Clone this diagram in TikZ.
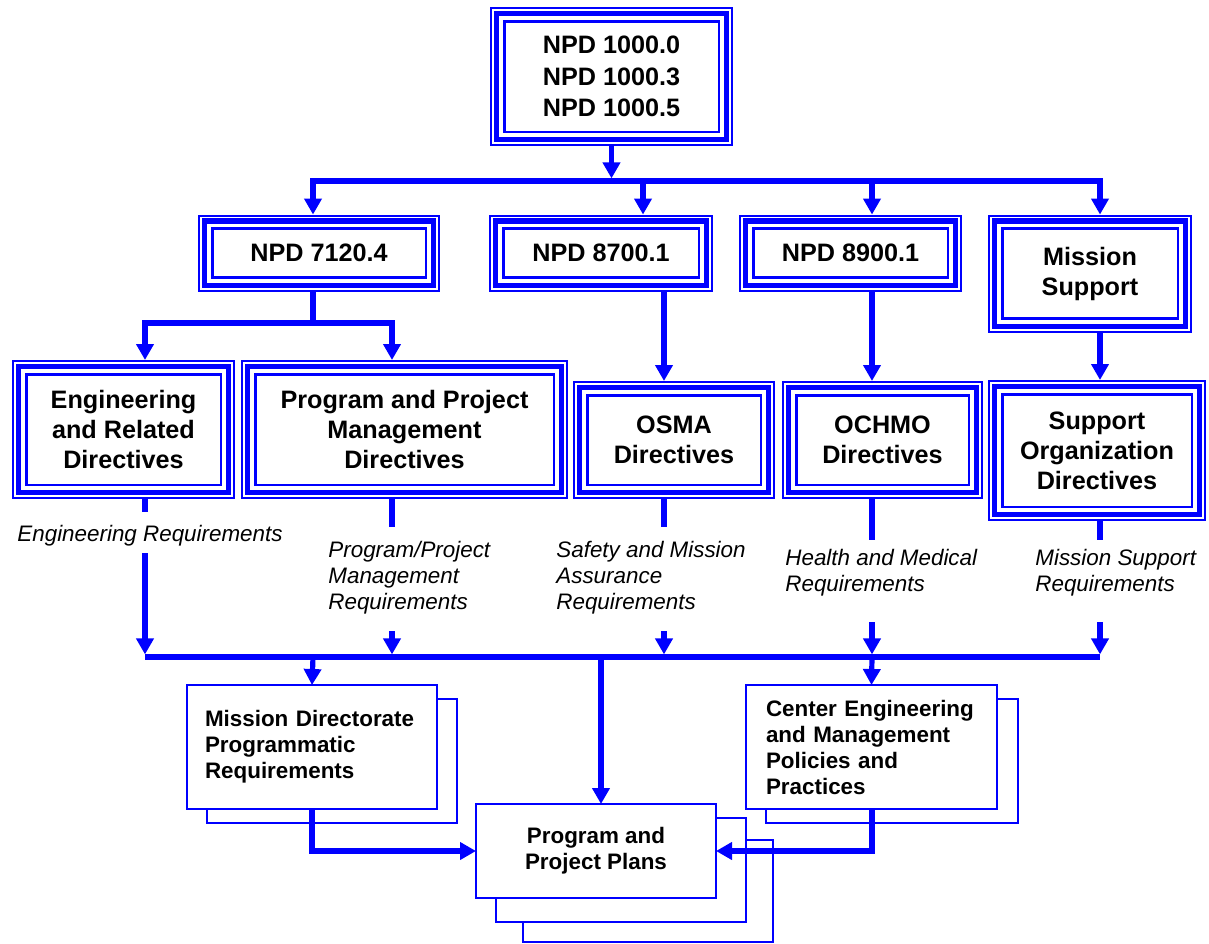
\documentclass[tikz,border=0pt]{standalone}
\usepackage{fontspec}
\setmainfont{Liberation Sans}
\usetikzlibrary{arrows.meta}

\definecolor{nblue}{RGB}{0,0,255}

\tikzset{
	conn/.style = {draw = nblue, line width = 2.6pt},
	arr/.style = {conn, -{Triangle[length = 8pt, width = 8.5pt]}},
	arrs/.style = {conn, {Triangle[length = 8pt, width = 8.5pt]}-{Triangle[length = 8pt, width = 8.5pt]}},
	into/.style = {shorten > = 7.1pt},
	outof/.style = {shorten < = 7.1pt},
	tobus/.style = {shorten > = 1.3pt},
	tri/.style = {draw = nblue, fill = white, line width = 1.3pt, inner sep = 0pt, outer sep = 0pt,
		align = center, font = \bfseries\fontsize{12.6}{15}\selectfont},
	thickframe/.style = {draw = nblue, line width = 2.6pt},
	thinframe/.style = {draw = nblue, line width = 1pt},
	req/.style = {anchor = west, align = left, inner sep = 0pt, font = \itshape\fontsize{11.2}{13}\selectfont},
	doc/.style = {draw = nblue, fill = white, line width = 0.9pt, outer sep = 0pt, inner ysep = 0pt,
		font = \bfseries\fontsize{11.2}{13}\selectfont},
	page/.style = {draw = nblue, fill = white, line width = 0.9pt}
}

\begin{document}
\begin{tikzpicture}[x = 0.5pt, y = -0.5pt]

\useasboundingbox (0, 0) rectangle (1209, 943);

% columns and bus lines
\coordinate (colA) at (145, 0);
\coordinate (colB) at (392, 0);
\coordinate (colC) at (643, 0);
\coordinate (colD) at (664, 0);
\coordinate (colE) at (872, 0);
\coordinate (colF) at (1100, 0);
\coordinate (colG) at (313, 0);
\coordinate (colH) at (601, 0);
\coordinate (bus1) at (0, 181);
\coordinate (br) at (0, 323);
\coordinate (bus2) at (0, 657);

% directives
\node[tri, minimum width = 107.3pt, minimum height = 55.3pt, font = \bfseries\fontsize{12.6}{15.8}\selectfont]
	(top) at (611.5, 76.5) {NPD 1000.0\\NPD 1000.3\\NPD 1000.5};

\node[tri, minimum width = 106.8pt, minimum height = 24.5pt] (n7120) at (319, 253.25) {NPD 7120.4};
\node[tri, minimum width = 97.8pt, minimum height = 24.5pt] (n8700) at (601, 253.25) {NPD 8700.1};
\node[tri, minimum width = 97.3pt, minimum height = 24.5pt] (n8900) at (850.5, 253.25) {NPD 8900.1};
\node[tri, minimum width = 87.8pt, minimum height = 45pt] (msup) at (1090, 273.75) {Mission\\Support};

\node[tri, minimum width = 97.3pt, minimum height = 55.3pt] (eng) at (123.5, 429.5)
	{Engineering\\and Related\\Directives};
\node[tri, minimum width = 149.3pt, minimum height = 55.3pt] (ppm) at (404.5, 429.5)
	{Program and Project\\Management\\Directives};
\node[tri, minimum width = 86.8pt, minimum height = 44.8pt] (osma) at (674, 440) {OSMA\\Directives};
\node[tri, minimum width = 86.3pt, minimum height = 44.8pt] (ochmo) at (882.5, 440) {OCHMO\\Directives};
\node[tri, minimum width = 94.8pt, minimum height = 56.3pt] (sorg) at (1097, 450.5)
	{Support\\Organization\\Directives};

\foreach \n in {top, n7120, n8700, n8900, msup, eng, ppm, osma, ochmo, sorg} {
	\draw[thickframe] ([shift = {(-3.9pt, -3.9pt)}]\n.south west) rectangle ([shift = {(3.9pt, 3.9pt)}]\n.north east);
	\draw[thinframe] ([shift = {(-6.6pt, -6.6pt)}]\n.south west) rectangle ([shift = {(6.6pt, 6.6pt)}]\n.north east);
}

% requirement labels
\node[req] (engreq) at (17, 536) {Engineering Requirements};
\node[req] (ppmreq) at (328, 578) {Program/Project\\Management\\Requirements};
\node[req] (osmareq) at (556, 578) {Safety and Mission\\Assurance\\Requirements};
\node[req] (ochmoreq) at (785, 573) {Health and Medical\\Requirements};
\node[req] (sorgreq) at (1035, 573) {Mission Support\\Requirements};

% stacked documents
\draw[page] (207, 699) rectangle (457, 823);
\node[doc, text width = 107pt, inner xsep = 9pt, minimum height = 62pt, align = left] (md) at (312, 747)
	{Mission Directorate\\Programmatic\\Requirements};

\draw[page] (766, 699) rectangle (1018, 823);
\node[doc, text width = 105.5pt, inner xsep = 10pt, minimum height = 62pt, align = left] (cen) at (871.5, 747)
	{Center Engineering\\and Management\\Policies and\\Practices};

\draw[page] (523, 840) rectangle (773, 942);
\draw[page] (496, 818) rectangle (746, 922);
\node[doc, minimum width = 120pt, minimum height = 47pt, align = center] (plans) at (596, 851)
	{Program and\\Project Plans};

% connectors, top half
\draw[arr, outof, tobus] (top.south) -- (top.south |- bus1);

\draw[arrs, into, outof] (colG |- n7120.north) -- (colG |- bus1) -- (colF |- bus1) -- (colF |- msup.north);
\draw[arr, into] (colC |- bus1) -- (colC |- n8700.north);
\draw[arr, into] (colE |- bus1) -- (colE |- n8900.north);

\draw[conn, outof] (colG |- n7120.south) -- (colG |- br);
\draw[arrs, into, outof] (colA |- eng.north) -- (colA |- br) -- (colB |- br) -- (colB |- ppm.north);
\draw[arr, into, outof] (colD |- n8700.south) -- (colD |- osma.north);
\draw[arr, into, outof] (colE |- n8900.south) -- (colE |- ochmo.north);
\draw[arr, into, outof] (colF |- msup.south) -- (colF |- sorg.north);

% connectors, lower half
\draw[conn, outof] (colA |- eng.south) -- (colA |- 0, 512);
\draw[arr, tobus] (colA |- 0, 553) -- (colA |- bus2);

\draw[conn, outof] (colB |- ppm.south) -- (colB |- 0, 527);
\draw[arr, tobus] (colB |- 0, 631) -- (colB |- bus2);

\draw[conn, outof] (colD |- osma.south) -- (colD |- 0, 527);
\draw[arr, tobus] (colD |- 0, 631) -- (colD |- bus2);

\draw[conn, outof] (colE |- ochmo.south) -- (colE |- 0, 540);
\draw[arr, tobus] (colE |- 0, 622) -- (colE |- bus2);

\draw[conn, outof] (colF |- sorg.south) -- (colF |- 0, 540);
\draw[arr, tobus] (colF |- 0, 622) -- (colF |- bus2);

\draw[conn] (colA |- bus2) -- (colF |- bus2);

\draw[arr] (colG |- bus2) -- (md.north);
\draw[arr] (colH |- bus2) -- (colH |- plans.north);
\draw[arr] (colE |- bus2) -- (cen.north);

\draw[arr, line width = 3pt] (md.south) |- (plans.west);
\draw[arr, line width = 3pt] (cen.south) |- (plans.east);

\end{tikzpicture}
\end{document}
